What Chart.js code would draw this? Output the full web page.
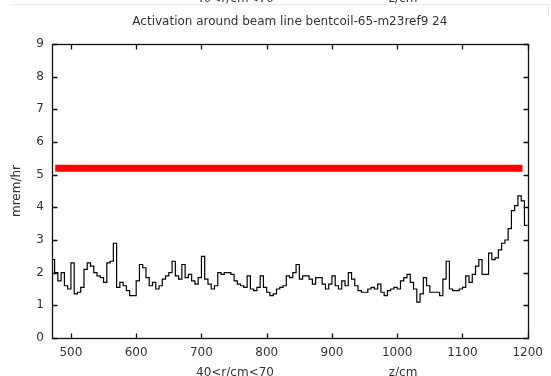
<!DOCTYPE html>
<html>
<head>
<meta charset="utf-8">
<script src="https://cdn.jsdelivr.net/npm/chart.js@4.4.1/dist/chart.umd.min.js"></script>
<style>
  html, body { margin: 0; padding: 0; background: #fff; }
  #wrap { width: 551px; height: 376px; }
</style>
</head>
<body>
<div id="wrap"><canvas id="actChart" width="551" height="376"></canvas></div>
<script>
// histogram bins along z (cm), 5 cm wide, left edge of first bin
const binStart = 470;
const binWidth = 5;

// dose rate per bin (mrem/hr)
const doseRate = [
    2.4, 2.0, 1.75, 2.0, 1.6, 1.5, 2.3, 1.35, 1.4, 1.55,
    2.1, 2.3, 2.2, 2.0, 1.9, 1.85, 1.7, 2.3, 2.35, 2.9,
    1.55, 1.7, 1.6, 1.45, 1.3, 1.3, 1.75, 2.25, 2.15, 1.85,
    1.6, 1.7, 1.5, 1.6, 1.8, 1.9, 2.0, 2.35, 1.9, 1.8,
    2.25, 1.85, 1.95, 1.75, 1.65, 1.85, 2.5, 1.8, 1.65, 1.5,
    1.6, 2.0, 1.95, 2.0, 2.0, 1.95, 1.75, 1.65, 1.6, 1.55,
    1.9, 1.5, 1.45, 1.55, 1.9, 1.55, 1.4, 1.3, 1.35, 1.5,
    1.55, 1.6, 1.9, 1.85, 2.0, 2.25, 1.8, 1.9, 1.9, 1.8,
    1.65, 1.85, 1.85, 1.65, 1.5, 1.65, 1.9, 1.6, 1.5, 1.75,
    1.6, 2.0, 1.8, 1.6, 1.45, 1.4, 1.4, 1.5, 1.55, 1.5,
    1.65, 1.4, 1.3, 1.45, 1.5, 1.55, 1.5, 1.75, 1.85, 1.95,
    1.7, 1.5, 1.1, 1.35, 1.85, 1.6, 1.4, 1.4, 1.4, 1.3,
    1.8, 2.35, 1.5, 1.45, 1.45, 1.5, 1.55, 1.9, 1.7, 1.95,
    2.2, 2.4, 1.95, 1.95, 2.6, 2.4, 2.45, 2.7, 2.9, 3.0,
    3.35, 3.9, 4.05, 4.35, 4.2, 3.45
];

// limit line (mrem/hr) and its z extent
const limitZ = [476, 1192];
const limitValue = [5.2, 5.2];

const xTicks = [500, 600, 700, 800, 900, 1000, 1100, 1200];
const yTicks = [0, 1, 2, 3, 4, 5, 6, 7, 8, 9];

const titleText = 'Activation around beam line bentcoil-65-m23ref9 24';
const yLabel = 'mrem/hr';
const rangeLabel = '40<r/cm<70';
const zLabel = 'z/cm';

const FONT = 'DejaVu Sans';
const INK = '#333';

// step points: left edges, plus the closing right edge
const histPoints = doseRate.map((v, i) => ({ x: binStart + i * binWidth, y: v }));
histPoints.push({ x: binStart + doseRate.length * binWidth, y: doseRate[doseRate.length - 1] });

const limitPoints = limitZ.map((z, i) => ({ x: z, y: limitValue[i] }));

// frame, inward ticks and the extra labels (gnuplot look)
const framePlugin = {
    id: 'frame',
    afterDatasetsDraw(chart) {
        const { ctx, scales } = chart;
        const len = 5;
        const px = v => Math.round(scales.x.getPixelForValue(v)) + 0.5;
        const py = v => Math.round(scales.y.getPixelForValue(v)) + 0.5;
        const left = px(scales.x.min), right = px(scales.x.max);
        const top = py(scales.y.max), bottom = py(scales.y.min);
        ctx.save();
        ctx.strokeStyle = '#111';
        ctx.lineWidth = 1.3;
        ctx.strokeRect(left, top, right - left, bottom - top);
        ctx.beginPath();
        xTicks.forEach(t => {
            const x = px(t);
            ctx.moveTo(x, bottom);
            ctx.lineTo(x, bottom - len);
            ctx.moveTo(x, top);
            ctx.lineTo(x, top + len);
        });
        yTicks.forEach(t => {
            const y = py(t);
            ctx.moveTo(left, y);
            ctx.lineTo(left + len, y);
            ctx.moveTo(right, y);
            ctx.lineTo(right - len, y);
        });
        ctx.stroke();
        ctx.restore();
    },
    afterDraw(chart) {
        const { ctx } = chart;
        ctx.save();
        ctx.fillStyle = INK;
        ctx.font = '12px "' + FONT + '"';
        ctx.textAlign = 'center';
        ctx.textBaseline = 'middle';
        ctx.fillText(rangeLabel, 235, 373);
        ctx.fillText(zLabel, 403, 373);
        // leftover edge of the panel above
        ctx.fillText(rangeLabel, 235, -1);
        ctx.fillText(zLabel, 403, -1);
        ctx.strokeStyle = '#e2ecf0';
        ctx.lineWidth = 1;
        ctx.beginPath();
        ctx.moveTo(12, 4.5);
        ctx.lineTo(548.5, 4.5);
        ctx.lineTo(548.5, 16);
        ctx.stroke();
        ctx.restore();
    }
};

const ctx = document.getElementById('actChart').getContext('2d');
new Chart(ctx, {
    type: 'line',
    data: {
        datasets: [{
            label: 'limit',
            data: limitPoints,
            borderColor: '#ff0000',
            borderWidth: 7,
            pointRadius: 0,
            borderCapStyle: 'butt'
        }, {
            label: 'dose',
            data: histPoints,
            borderColor: '#000',
            borderWidth: 1.2,
            pointRadius: 0,
            stepped: true
        }]
    },
    options: {
        responsive: false,
        animation: false,
        devicePixelRatio: 1,
        layout: { padding: { left: 0, right: 21, top: 0, bottom: 0 } },
        plugins: {
            legend: { display: false },
            tooltip: { enabled: false },
            title: {
                display: true,
                fullSize: false,
                text: titleText,
                color: INK,
                font: { family: FONT, size: 12, weight: 'normal' },
                padding: { top: 15, bottom: 14.6 }
            }
        },
        scales: {
            x: {
                type: 'linear',
                min: 471,
                max: 1200,
                afterBuildTicks: s => { s.ticks = xTicks.map(v => ({ value: v })); },
                afterFit: s => { s.height = 38; },
                grid: { display: false, drawTicks: false },
                border: { display: false },
                ticks: {
                    color: INK,
                    font: { family: FONT, size: 12 },
                    padding: 8,
                    maxRotation: 0,
                    autoSkip: false,
                    callback: v => String(v)
                }
            },
            y: {
                min: 0,
                max: 9,
                afterBuildTicks: s => { s.ticks = yTicks.map(v => ({ value: v })); },
                afterFit: s => { s.width = 52; },
                grid: { display: false, drawTicks: false },
                border: { display: false },
                title: {
                    display: true,
                    text: yLabel,
                    color: INK,
                    font: { family: FONT, size: 12 },
                    padding: { top: 10, bottom: 0 }
                },
                ticks: {
                    color: INK,
                    font: { family: FONT, size: 12 },
                    padding: 8,
                    callback: v => String(v)
                }
            }
        }
    },
    plugins: [framePlugin]
});
</script>
</body>
</html>
